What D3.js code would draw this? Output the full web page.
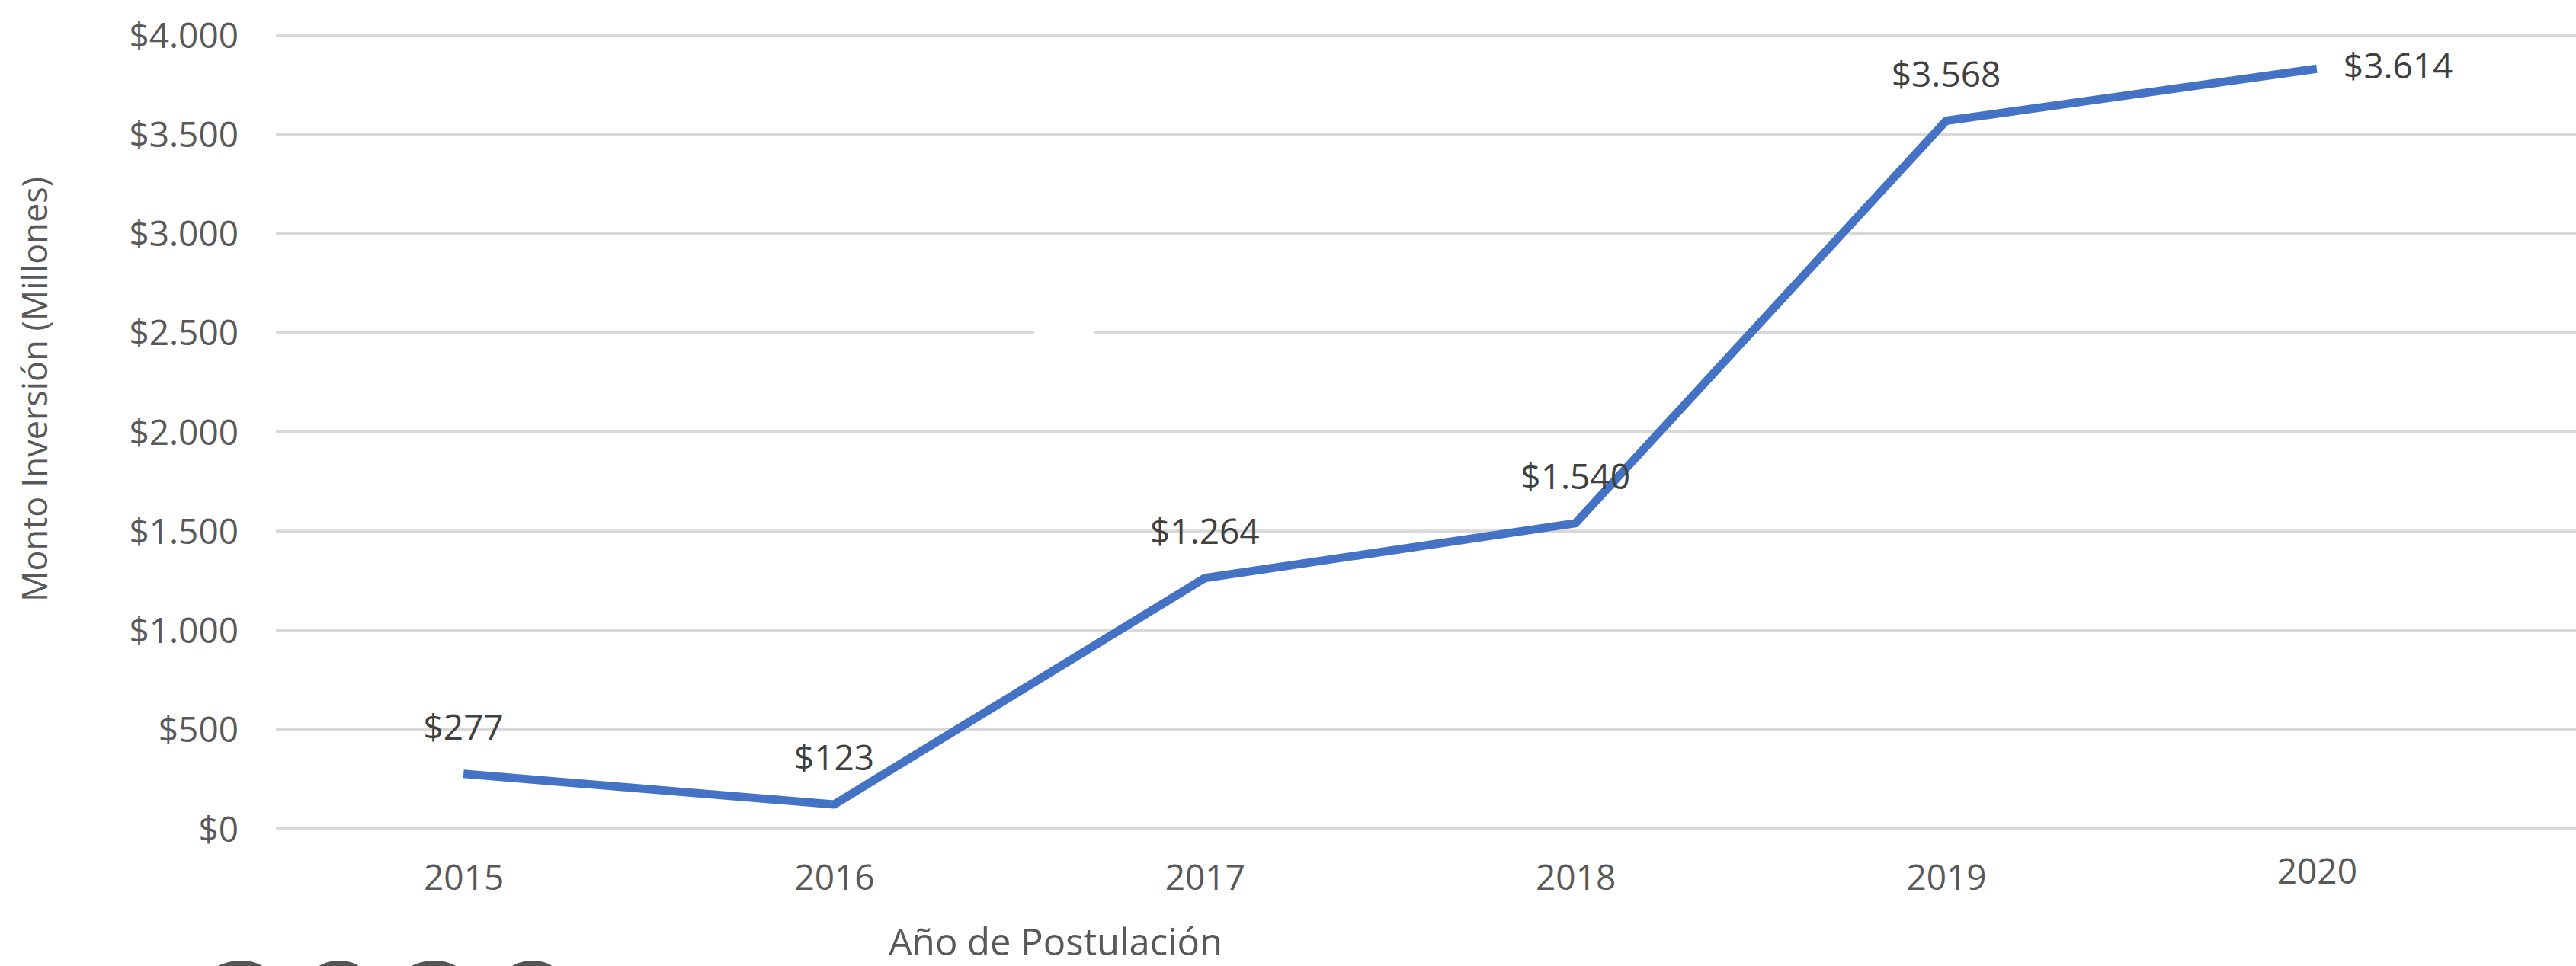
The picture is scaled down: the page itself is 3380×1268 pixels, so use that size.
<!DOCTYPE html>
<html>
<head>
<meta charset="utf-8">
<script src="https://cdn.jsdelivr.net/npm/d3@7"></script>
<style>
  html, body { margin: 0; padding: 0; background: #ffffff; }
  svg { display: block; }
</style>
</head>
<body>
<svg id="chart"></svg>
<script>
// Monto de inversión por año de postulación (millones)
const years = ['2015', '2016', '2017', '2018', '2019', '2020'];
// plotted heights (the 2020 point sits near 3.830 even though its label says 3.614)
const amounts = [277, 123, 1264, 1540, 3568, 3830];
const amountLabels = ['$277', '$123', '$1.264', '$1.540', '$3.568', '$3.614'];
const yTicks = [0, 500, 1000, 1500, 2000, 2500, 3000, 3500, 4000];

const width = 3380, height = 1268;
const font = "'Open Sans', 'Noto Sans', sans-serif";

const svg = d3.select('#chart')
    .attr('width', width)
    .attr('height', height);

const x = d3.scalePoint()
    .domain(years)
    .range([365, 3283])
    .padding(0.5);

const y = d3.scaleLinear()
    .domain([0, 4000])
    .range([1088, 46]);

// gridlines
const grid = svg.append('g');
grid.selectAll('line')
    .data(yTicks)
    .enter()
    .append('line')
    .attr('x1', 362)
    .attr('x2', width)
    .attr('y1', d => y(d))
    .attr('y2', d => y(d))
    .attr('stroke', '#d9d9d9')
    .attr('stroke-width', 4);

// small white gap in the $2.500 gridline seen in the original
grid.append('rect')
    .attr('x', x('2016') + x.step() * 0.54)
    .attr('y', y(2500) - 6)
    .attr('width', x.step() * 0.16)
    .attr('height', 12)
    .attr('fill', '#ffffff');

// y axis labels
const yAxis = d3.axisLeft(y)
    .tickValues(yTicks)
    .tickSize(0)
    .tickPadding(0)
    .tickFormat(d => '$' + d3.format(',')(d).replace(/,/g, '.'));

svg.append('g')
    .attr('transform', 'translate(313,0)')
    .call(yAxis)
    .call(g => g.select('.domain').remove())
    .selectAll('text')
    .attr('font-family', font)
    .attr('font-size', 46)
    .attr('fill', '#595959')
    .attr('dy', '0.35em');

// x axis labels
const xAxis = d3.axisBottom(x)
    .tickSize(0)
    .tickPadding(0);

svg.append('g')
    .attr('transform', 'translate(0,1168)')
    .call(xAxis)
    .call(g => g.select('.domain').remove())
    .selectAll('text')
    .attr('font-family', font)
    .attr('font-size', 46)
    .attr('fill', '#595959')
    .attr('dy', d => d === '2020' ? -8 : 0);

// axis titles
svg.append('text')
    .attr('transform', 'translate(62,511) rotate(-90)')
    .attr('text-anchor', 'middle')
    .attr('font-family', font)
    .attr('font-size', 45)
    .attr('fill', '#595959')
    .text('Monto Inversión (Millones)');

svg.append('text')
    .attr('x', 1385)
    .attr('y', 1254)
    .attr('text-anchor', 'middle')
    .attr('font-family', font)
    .attr('font-size', 49)
    .attr('fill', '#595959')
    .text('Año de Postulación');

// the line
const line = d3.line()
    .x((d, i) => x(years[i]))
    .y(d => y(d));

svg.append('path')
    .datum(amounts)
    .attr('d', line)
    .attr('fill', 'none')
    .attr('stroke', '#4472c4')
    .attr('stroke-width', 11)
    .attr('stroke-linejoin', 'round');

// data labels
const last = years.length - 1;
svg.append('g')
    .selectAll('text')
    .data(amounts)
    .enter()
    .append('text')
    .attr('x', (d, i) => i === last ? x(years[i]) + 35 : x(years[i]))
    .attr('y', (d, i) => i === last ? y(d) + 13 : y(d) - 45)
    .attr('text-anchor', (d, i) => i === last ? 'start' : 'middle')
    .attr('font-family', font)
    .attr('font-size', 46)
    .attr('fill', '#404040')
    .text((d, i) => amountLabels[i]);

// top of a large "2020" cut off by the bottom edge, as in the source image
svg.append('text')
    .attr('x', 255)
    .attr('y', 1422)
    .attr('font-family', font)
    .attr('font-size', 222)
    .attr('fill', '#555555')
    .text('2020');
</script>
</body>
</html>
